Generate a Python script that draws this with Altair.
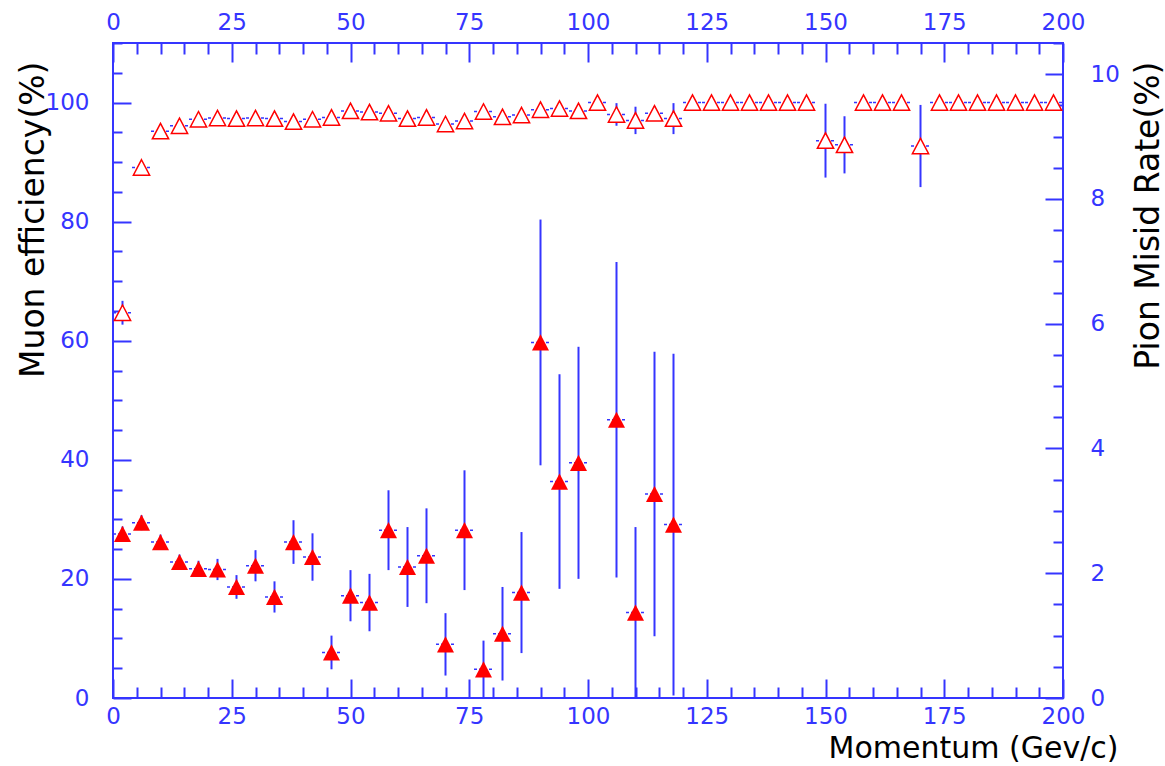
import altair as alt
import pandas as pd

BLUE = "#3535ff"
RED = "#ff0000"
FONT = "DejaVu Sans"
W, H = 950, 655
HALF_BIN = 2  # half width of a 4 GeV/c momentum bin

# Muon efficiency (%) per momentum bin centre (GeV/c)
momentum = [2, 6, 10, 14, 18, 22, 26, 30, 34, 38, 42, 46, 50, 54, 58, 62, 66, 70,
            74, 78, 82, 86, 90, 94, 98, 102, 106, 110, 114, 118, 122, 126, 130,
            134, 138, 142, 146, 150, 154, 158, 162, 166, 170, 174, 178, 182, 186,
            190, 194, 198]
muon_eff = [64.7, 89.1, 95.2, 96.1, 97.2, 97.4, 97.3, 97.4, 97.3, 96.8, 97.2, 97.5,
            98.6, 98.4, 98.2, 97.3, 97.5, 96.4, 96.9, 98.5, 97.6, 97.9, 98.8, 99.0,
            98.6, 100.0, 98.0, 97.0, 98.2, 97.3, 100.0, 100.0, 100.0, 100.0, 100.0,
            100.0, 100.0, 93.6, 92.9, 100.0, 100.0, 100.0, 92.7, 100.0, 100.0, 100.0,
            100.0, 100.0, 100.0, 100.0]
muon_err = [2.0, 1.0, 0.7, 0.6, 0.5, 0.5, 0.5, 0.5, 0.5, 0.6, 0.6, 0.6, 0.5, 0.6,
            0.6, 0.8, 0.8, 0.9, 0.9, 0.7, 1.0, 1.0, 0.9, 0.9, 1.1, 0.0, 1.9, 2.3,
            1.2, 2.6, 0.0, 0.0, 0.0, 0.0, 0.0, 0.0, 0.0, 6.2, 4.8, 0.0, 0.0, 0.0,
            6.9, 0.0, 0.0, 0.0, 0.0, 0.0, 0.0, 0.0]

# Pion misidentification rate (%) per momentum bin centre (GeV/c)
pion_p = [2, 6, 10, 14, 18, 22, 26, 30, 34, 38, 42, 46, 50, 54, 58, 62, 66, 70,
          74, 78, 82, 86, 90, 94, 98, 106, 110, 114, 118]
pion_rate = [2.63, 2.81, 2.50, 2.18, 2.07, 2.06, 1.78, 2.12, 1.62, 2.50, 2.26, 0.73,
             1.64, 1.53, 2.69, 2.10, 2.28, 0.86, 2.69, 0.46, 1.03, 1.69, 5.70, 3.47,
             3.77, 4.46, 1.37, 3.27, 2.78]
pion_err = [0.12, 0.12, 0.12, 0.12, 0.13, 0.17, 0.19, 0.25, 0.25, 0.35, 0.38, 0.27,
            0.41, 0.46, 0.64, 0.64, 0.76, 0.50, 0.96, 0.46, 0.75, 0.97, 1.97, 1.72,
            1.86, 2.53, 1.37, 2.28, 2.74]

# Axis tick positions
x_labels = [0, 25, 50, 75, 100, 125, 150, 175, 200]
x_ticks = list(range(0, 201, 5))
left_labels = [0, 20, 40, 60, 80, 100]
left_ticks = list(range(0, 111, 5))
right_labels = [0, 2, 4, 6, 8, 10]
right_ticks = [i / 2 for i in range(0, 22)]


def with_bounds(p, v, e):
    df = pd.DataFrame({"p": p, "v": v, "e": e})
    df["lo"] = (df["v"] - df["e"]).clip(lower=0)
    df["hi"] = df["v"] + df["e"]
    df["pl"] = df["p"] - HALF_BIN
    df["pr"] = df["p"] + HALF_BIN
    return df


muon = with_bounds(momentum, muon_eff, muon_err)
pion = with_bounds(pion_p, pion_rate, pion_err)

xs = alt.Scale(domain=[0, 200], nice=False, zero=False)
ys_left = alt.Scale(domain=[0, 110], nice=False, zero=False)
ys_right = alt.Scale(domain=[0, 10.5], nice=False, zero=False)

TRIANGLE = "M0,-0.95L1,0.95L-1,0.95Z"

label_style = dict(
    domain=False, grid=False, labelColor=BLUE, labelFont=FONT, labelFontSize=23,
    labelFlush=False, labelOverlap=False, titleFont=FONT,
    titleFontWeight="normal", titleColor="black",
)
tick_style = dict(
    domain=False, grid=False, labels=False, ticks=True, tickColor=BLUE,
    tickWidth=2, title=None,
)


def series(df, yscale, filled):
    hbar = alt.Chart(df).mark_rule(color=BLUE, strokeWidth=1.5, strokeDash=[3, 2]).encode(
        x=alt.X("pl:Q", scale=xs, axis=None), x2="pr:Q",
        y=alt.Y("v:Q", scale=yscale, axis=None),
    )
    vbar = alt.Chart(df).mark_rule(color=BLUE, strokeWidth=2).encode(
        x=alt.X("p:Q", scale=xs, axis=None),
        y=alt.Y("lo:Q", scale=yscale, axis=None), y2="hi:Q",
    )
    if filled:
        pts = alt.Chart(df).mark_point(
            shape=TRIANGLE, size=290, filled=True, color=RED, opacity=1
        )
    else:
        pts = alt.Chart(df).mark_point(
            shape=TRIANGLE, size=264, fill="white", fillOpacity=1, stroke=RED,
            strokeWidth=1.5, strokeOpacity=1, opacity=1
        )
    pts = pts.encode(
        x=alt.X("p:Q", scale=xs, axis=None),
        y=alt.Y("v:Q", scale=yscale, axis=None),
    )
    return [hbar, vbar, pts]


def axis_layer(df, yscale, x_axis, y_axis):
    return alt.Chart(df).mark_point(opacity=0).encode(
        x=alt.X("p:Q", scale=xs, axis=x_axis),
        y=alt.Y("v:Q", scale=yscale, axis=y_axis),
    )


# Labelled axes on all four sides
ax_bottom_left = axis_layer(
    muon, ys_left,
    alt.Axis(orient="bottom", values=x_labels, ticks=False, labelPadding=7,
             title="Momentum (Gev/c)", titleFontSize=30, titleX=1005, titleY=59,
             titleAlign="right", titleBaseline="alphabetic", titleAngle=0,
             **label_style),
    alt.Axis(orient="left", values=left_labels, ticks=False, labelPadding=24,
             title="Muon efficiency(%)", titleFontSize=33, titleAngle=270,
             titleX=-70, titleY=18, titleAlign="right", titleBaseline="alphabetic",
             **label_style),
)
ax_top_right = axis_layer(
    pion, ys_right,
    alt.Axis(orient="top", values=x_labels, ticks=False, labelPadding=9,
             title=None, **label_style),
    alt.Axis(orient="right", values=right_labels, ticks=False, labelPadding=27,
             title="Pion Misid Rate(%)", titleFontSize=33, titleAngle=270,
             titleX=95, titleY=18, titleAlign="right", titleBaseline="alphabetic",
             **label_style),
)

# Tick marks pointing into the frame: the opposite-side axis moved across the view
x_tick_size = {"condition": {"test": "datum.value % 25 === 0", "value": 19}, "value": 11}
ax_ticks_a = axis_layer(
    muon, ys_left,
    alt.Axis(orient="top", offset=-H, values=x_ticks, tickSize=x_tick_size, **tick_style),
    alt.Axis(orient="right", offset=-W, values=left_ticks,
             tickSize={"condition": {"test": "datum.value % 20 === 0", "value": 18}, "value": 9},
             **tick_style),
)
ax_ticks_b = axis_layer(
    pion, ys_right,
    alt.Axis(orient="bottom", offset=-H, values=x_ticks, tickSize=x_tick_size, **tick_style),
    alt.Axis(orient="left", offset=-W, values=right_ticks,
             tickSize={"condition": {"test": "datum.value % 2 === 0", "value": 18}, "value": 10},
             **tick_style),
)

layers = (series(muon, ys_left, False) + series(pion, ys_right, True)
          + [ax_bottom_left, ax_top_right, ax_ticks_a, ax_ticks_b])

chart = alt.layer(*layers).resolve_scale(
    x="independent", y="independent"
).resolve_axis(
    x="independent", y="independent"
).properties(
    width=W, height=H,
    padding={"left": 113, "top": 43, "right": 102, "bottom": 68},
    autosize=alt.AutoSizeParams(type="none"),
    background="white",
).configure_view(stroke=BLUE, strokeWidth=2)

chart.save("out.html", embed_options={"renderer": "svg", "actions": False})
